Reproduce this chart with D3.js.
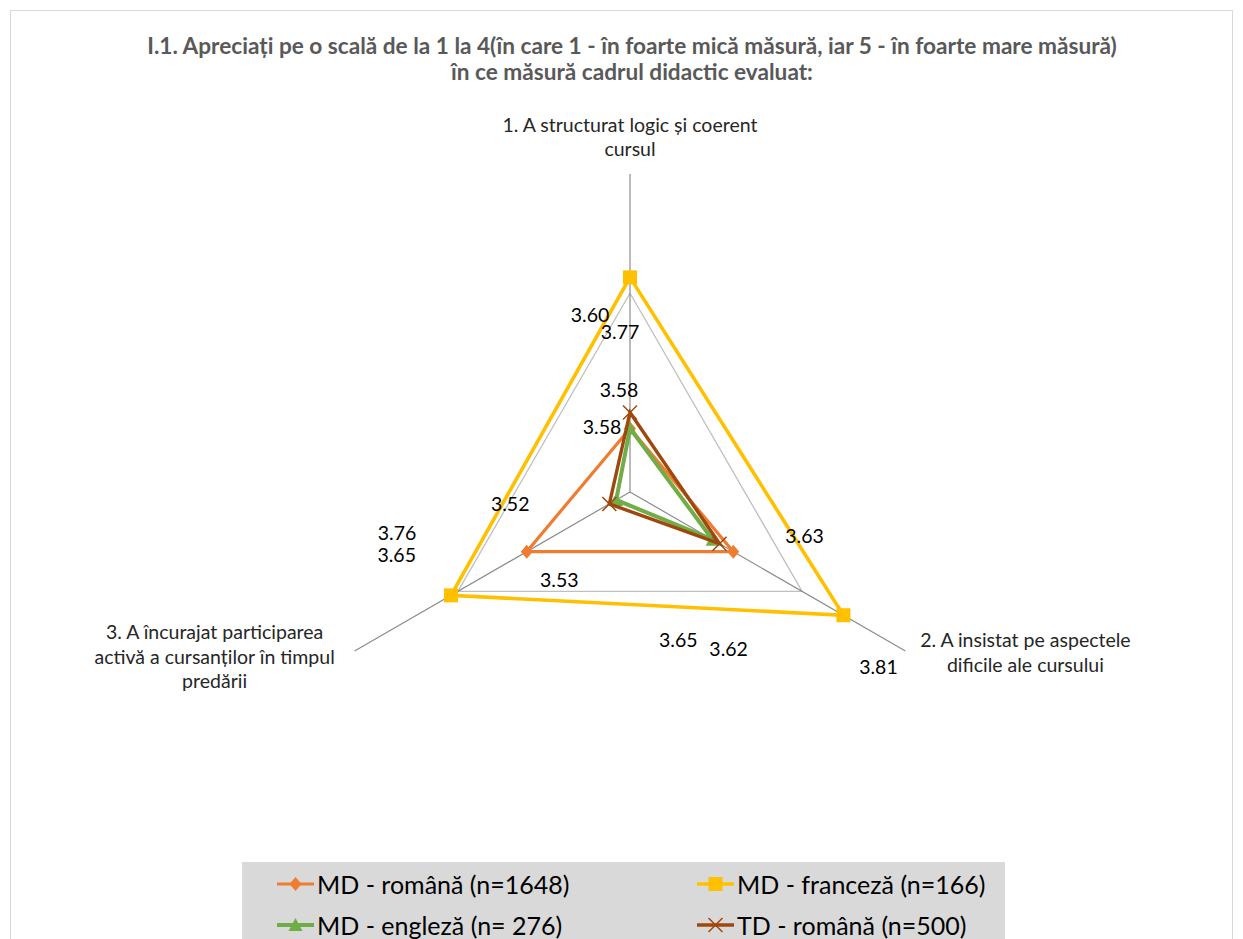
<!DOCTYPE html>
<html>
<head>
<meta charset="utf-8">
<script src="https://cdn.jsdelivr.net/npm/d3@7"></script>
<style>
  html, body { margin: 0; padding: 0; background: #fff; }
  svg { display: block; }
  text { font-family: Lato, "Open Sans", sans-serif; }
</style>
</head>
<body>
<svg id="chart" width="1243" height="939"></svg>
<script>
// ---------- DATA ----------
const titleLines = [
  "I.1. Apreciați pe o scală de la 1 la 4(în care 1 - în foarte mică măsură, iar 5 - în foarte mare măsură)",
  "în ce măsură cadrul didactic evaluat:"
];
const categories = [
  ["1. A structurat logic și coerent", "cursul"],
  ["2. A insistat pe aspectele", "dificile ale cursului"],
  ["3. A încurajat participarea", "activă a cursanților în timpul", "predării"]
];
const seriesNames = [
  "MD - română (n=1648)",
  "MD - franceză (n=166)",
  "MD - engleză (n= 276)",
  "TD - română (n=500)"
];
const mdRomana  = [3.58, 3.65, 3.65];
const mdFranceza = [3.77, 3.81, 3.76];
const mdEngleza = [3.58, 3.62, 3.52];
const tdRomana  = [3.60, 3.63, 3.53];
const scaleDomain = [3.5, 3.9];
const gridTicks = [3.75];

// ---------- LAYOUT / STYLE ----------
const colors = ["#ED7D31", "#FFC000", "#70AD47", "#9E480E"];
const lineWidths = [3.2, 3.6, 4, 3.4];
const markers = ["diamond", "square", "triangle", "x"];
// data-label offsets (px) from each point, per series, per axis
const labelOffsets = [
  [[-28, -2], [-55, 88], [-130, 2.5]],
  [[-10, 54], [35, 51], [-54, -62.5]],
  [[-11, -39], [16, 109], [-106, 4]],
  [[-40, -98], [85, -8], [-50, 76]]
];

const seriesValues = [mdRomana, mdFranceza, mdEngleza, tdRomana];
const series = seriesNames.map((name, i) => ({
  name, values: seriesValues[i], color: colors[i], width: lineWidths[i], marker: markers[i], offsets: labelOffsets[i]
}));

const svg = d3.select("#chart");
const cx = 630, cy = 492, R = 318;

// chart border
svg.append("rect").attr("x", 10.5).attr("y", 10.5).attr("width", 1222).attr("height", 960)
  .attr("fill", "#fff").attr("stroke", "#d9d9d9").attr("stroke-width", 1);

// title
const title = svg.append("g");
titleLines.forEach((t, i) => {
  title.append("text")
    .attr("x", 632).attr("y", 54 + i * 26)
    .attr("text-anchor", "middle")
    .attr("font-size", 17.5).attr("font-weight", "bold").attr("fill", "#595959")
    .text(t);
});
(function () {
  const t = title.select("text").node();
  const s = 970 / t.getComputedTextLength();
  title.selectAll("text").attr("font-size", 17.5 * s);
})();

const r = d3.scaleLinear().domain(scaleDomain).range([0, R]);
const n = categories.length;
const angle = i => -Math.PI / 2 + i * 2 * Math.PI / n;
const pt = (i, v) => [cx + r(v) * Math.cos(angle(i)), cy + r(v) * Math.sin(angle(i))];

// gridlines
const lineGen = d3.line();
gridTicks.forEach(t => {
  const pts = d3.range(n).map(i => pt(i, t));
  svg.append("path").attr("d", lineGen(pts) + "Z")
    .attr("fill", "none").attr("stroke", "#bfbfbf").attr("stroke-width", 1.3);
});
// axes
d3.range(n).forEach(i => {
  const [x1, y1] = pt(i, scaleDomain[0]);
  const [x2, y2] = pt(i, scaleDomain[1]);
  svg.append("line").attr("x1", x1).attr("y1", y1).attr("x2", x2).attr("y2", y2)
    .attr("stroke", "#8c8c8c").attr("stroke-width", 1.2);
});

// axis category labels
const lh = 24.5;
categories.forEach((lines, i) => {
  const [ex, ey] = pt(i, scaleDomain[1]);
  let x, y0;
  if (i === 0) { x = ex; y0 = ey - 18 - (lines.length - 1) * lh; }
  else if (i === 1) { x = ex + 120; y0 = ey - 4; }
  else { x = ex - 140; y0 = ey - 12; }
  lines.forEach((ln, k) => {
    svg.append("text").attr("x", x).attr("y", y0 + k * lh)
      .attr("text-anchor", "middle").attr("font-size", 19.5).attr("fill", "#262626")
      .text(ln);
  });
});

// marker drawing
function drawMarker(g, type, x, y, color) {
  if (type === "diamond") {
    g.append("path").attr("d", `M${x},${y - 7}L${x + 6},${y}L${x},${y + 7}L${x - 6},${y}Z`).attr("fill", color);
  } else if (type === "square") {
    g.append("rect").attr("x", x - 7).attr("y", y - 7).attr("width", 14).attr("height", 14).attr("fill", color);
  } else if (type === "triangle") {
    g.append("path").attr("d", `M${x},${y - 7}L${x + 7},${y + 6}L${x - 7},${y + 6}Z`).attr("fill", color);
  } else {
    g.append("path").attr("d", `M${x - 7},${y - 7}L${x + 7},${y + 7}M${x - 7},${y + 7}L${x + 7},${y - 7}`)
      .attr("stroke", color).attr("stroke-width", 1.5).attr("fill", "none");
  }
}

// series
series.forEach(s => {
  const g = svg.append("g");
  const pts = s.values.map((v, i) => pt(i, v));
  g.append("path").attr("d", lineGen(pts) + "Z")
    .attr("fill", "none").attr("stroke", s.color).attr("stroke-width", s.width)
    .attr("stroke-linejoin", "miter");
  pts.forEach(p => drawMarker(g, s.marker, p[0], p[1], s.color));
});
// data labels
series.forEach(s => {
  s.values.forEach((v, i) => {
    const [x, y] = pt(i, v);
    svg.append("text")
      .attr("x", x + s.offsets[i][0]).attr("y", y + s.offsets[i][1])
      .attr("text-anchor", "middle").attr("dominant-baseline", "central")
      .attr("font-size", 19.5).attr("fill", "#000")
      .text(d3.format(".2f")(v));
  });
});

// legend
const lg = svg.append("g");
lg.append("rect").attr("x", 242).attr("y", 862).attr("width", 763).attr("height", 90).attr("fill", "#d9d9d9");
const legendPos = [[277, 884], [697, 884], [277, 925], [697, 925]];
series.forEach((s, i) => {
  const [x, y] = legendPos[i];
  lg.append("line").attr("x1", x).attr("y1", y).attr("x2", x + 37).attr("y2", y)
    .attr("stroke", s.color).attr("stroke-width", s.width);
  drawMarker(lg, s.marker, x + 18.5, y, s.color);
  lg.append("text").attr("x", x + 40).attr("y", y).attr("dominant-baseline", "central")
    .attr("font-size", 25).attr("fill", "#000").text(s.name);
});
</script>
</body>
</html>
